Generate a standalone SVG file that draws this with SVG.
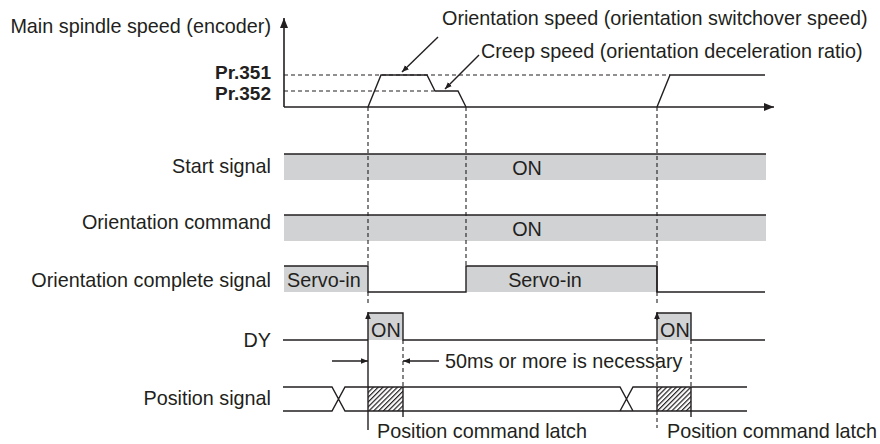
<svg xmlns="http://www.w3.org/2000/svg" width="880" height="444" viewBox="0 0 880 444">
<style>
text{font-family:"Liberation Sans",Arial,sans-serif;font-size:19.8px;fill:#231f20}
.r{text-anchor:end}
.m{text-anchor:middle}
.b{font-weight:bold;font-size:19px}
.ln{stroke:#231f20;stroke-width:1.4;fill:none}
.ax{stroke:#231f20;stroke-width:1.6;fill:none}
.ds{stroke:#231f20;stroke-width:1.1;fill:none;stroke-dasharray:4 3}
.gr{fill:#d1d2d4}
</style>
<defs>
<marker id="ah" viewBox="0 0 10 10" refX="10" refY="5" markerWidth="7" markerHeight="7" markerUnits="userSpaceOnUse" orient="auto">
<path d="M0,1 L10,5 L0,9 Z" fill="#231f20"/>
</marker>
<marker id="axh" viewBox="0 0 10 10" refX="10" refY="5" markerWidth="10" markerHeight="10" markerUnits="userSpaceOnUse" orient="auto">
<path d="M0,1 L10,5 L0,9 Z" fill="#231f20"/>
</marker>
<pattern id="hatch" patternUnits="userSpaceOnUse" width="3.4" height="3.4" patternTransform="rotate(45)">
<line x1="0.6" y1="0" x2="0.6" y2="3.4" stroke="#231f20" stroke-width="1.2"/>
</pattern>
</defs>

<g id="speed-graph">
<text class="r" x="271" y="33">Main spindle speed (encoder)</text>
<text class="r b" x="271" y="79">Pr.351</text>
<text class="r b" x="271" y="100">Pr.352</text>
<line class="ds" x1="284" y1="75" x2="670" y2="75"/>
<line class="ds" x1="284" y1="91" x2="434" y2="91"/>
<path class="ax" d="M284,107 V18" marker-end="url(#axh)"/>
<path class="ax" d="M284,107 H774" marker-end="url(#axh)"/>
<path class="ln" d="M368,107 L381,75 H427 L435,91 H458 L466,107"/>
<path class="ln" d="M657,107 L670,75 H765"/>
</g>

<g id="annotations">
<text x="442" y="25">Orientation speed (orientation switchover speed)</text>
<text x="481" y="58">Creep speed (orientation deceleration ratio)</text>
<line class="ln" x1="438" y1="37" x2="402" y2="72" stroke-width="1.1" marker-end="url(#ah)"/>
<line class="ln" x1="479" y1="55" x2="445" y2="89" stroke-width="1.1" marker-end="url(#ah)"/>
</g>

<g id="start-signal">
<text class="r" x="271" y="173">Start signal</text>
<rect class="gr" x="284" y="154" width="482" height="26"/>
<line class="ln" x1="284" y1="154" x2="766" y2="154"/>
<text class="m" x="527" y="175">ON</text>
</g>

<g id="orientation-command">
<text class="r" x="271" y="229">Orientation command</text>
<rect class="gr" x="284" y="215" width="482" height="26"/>
<line class="ln" x1="284" y1="215" x2="766" y2="215"/>
<text class="m" x="527" y="236">ON</text>
</g>

<g id="orientation-complete">
<text class="r" x="271" y="287">Orientation complete signal</text>
<rect class="gr" x="284" y="266" width="84" height="26"/>
<rect class="gr" x="466" y="266" width="191" height="26"/>
<path class="ln" d="M284,266 H368 V292 H466 V266 H657 V292 H765"/>
<text x="287" y="287">Servo-in</text>
<text class="m" x="545" y="287">Servo-in</text>
</g>

<g id="dy">
<text class="r" x="271" y="347">DY</text>
<rect class="gr" x="368" y="313" width="35" height="27"/>
<rect class="gr" x="657" y="313" width="34" height="27"/>
<path class="ln" d="M283,340 H368 M368,313 H403 V340 H657 M657,313 H691 V340 H765"/>
<line class="ln" x1="657" y1="340" x2="657" y2="313"/>
<text x="371" y="337">ON</text>
<text x="660" y="337">ON</text>
<text x="445" y="368">50ms or more is necessary</text>
</g>

<g id="position-signal">
<text class="r" x="271" y="405">Position signal</text>
<rect x="368" y="387" width="35" height="24" fill="url(#hatch)"/>
<rect x="657" y="387" width="34" height="24" fill="url(#hatch)"/>
<path class="ln" d="M283,387 H332 L345,411 H747 M283,411 H332 L345,387 H620 L633,411 M620,411 L633,387 H747"/>
<path class="ln" d="M657,387 V411 M691,387 V417 M403,387 V417"/>
<text x="377" y="438">Position command latch</text>
<text x="667" y="438">Position command latch</text>
</g>

<g id="connectors">
<line class="ds" x1="368" y1="107" x2="368" y2="266"/>
<line class="ds" x1="368" y1="292" x2="368" y2="306"/>
<line class="ln" x1="368" y1="430" x2="368" y2="312" marker-end="url(#ah)"/>
<line class="ds" x1="466" y1="107" x2="466" y2="266"/>
<line class="ds" x1="657" y1="107" x2="657" y2="266"/>
<line class="ln" x1="657" y1="266" x2="657" y2="292"/>
<line class="ds" x1="657" y1="292" x2="657" y2="306"/>
<line class="ln" x1="657" y1="320" x2="657" y2="312" marker-end="url(#ah)"/>
<line class="ds" x1="657" y1="340" x2="657" y2="387"/>
<line class="ds" x1="657" y1="411" x2="657" y2="428"/>
<line class="ds" x1="403" y1="340" x2="403" y2="387"/>
<line class="ds" x1="691" y1="340" x2="691" y2="387"/>
<line class="ln" x1="332" y1="361" x2="368" y2="361" stroke-width="1.1" marker-end="url(#ah)"/>
<line class="ln" x1="439" y1="361" x2="403" y2="361" stroke-width="1.1" marker-end="url(#ah)"/>
</g>
</svg>
